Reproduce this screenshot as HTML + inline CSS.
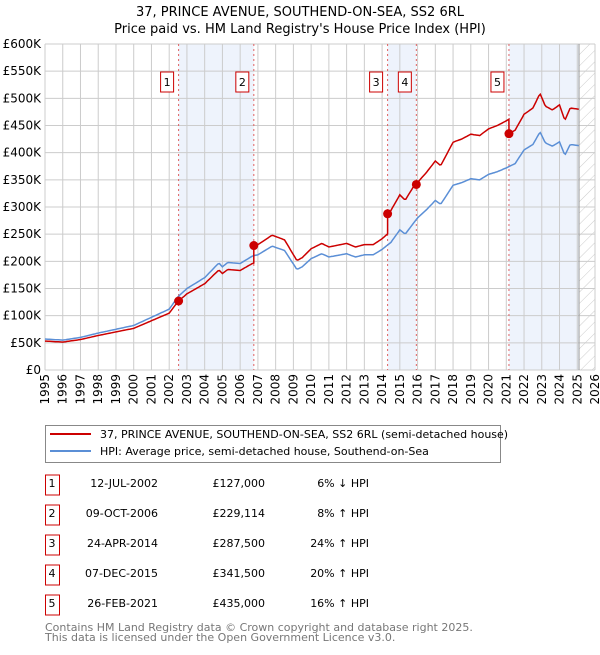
<!DOCTYPE html>
<html><head><meta charset="utf-8"><style>
body{margin:0;background:#fff;font-family:"Liberation Sans","DejaVu Sans",sans-serif;}
</style></head><body>
<svg width="600" height="650" xmlns="http://www.w3.org/2000/svg" font-family="DejaVu Sans, Liberation Sans, sans-serif">
<text x="300" y="16" text-anchor="middle" font-size="13">37, PRINCE AVENUE, SOUTHEND-ON-SEA, SS2 6RL</text>
<text x="300" y="33" text-anchor="middle" font-size="13">Price paid vs. HM Land Registry's House Price Index (HPI)</text>
<defs><pattern id="hatch" width="8" height="8" patternUnits="userSpaceOnUse" patternTransform="rotate(45)"><line x1="0" y1="0" x2="0" y2="8" stroke="#ccc" stroke-width="1"/></pattern></defs>
<g id="plot"></g>
<g>
<rect x="45.5" y="425.5" width="455" height="37" fill="#fff" stroke="#888"/>
<line x1="50" y1="434" x2="91" y2="434" stroke="#cc0000" stroke-width="2"/>
<text x="100" y="438" font-size="11">37, PRINCE AVENUE, SOUTHEND-ON-SEA, SS2 6RL (semi-detached house)</text>
<line x1="50" y1="451" x2="91" y2="451" stroke="#5b8fd6" stroke-width="2"/>
<text x="100" y="455" font-size="11">HPI: Average price, semi-detached house, Southend-on-Sea</text>
</g>
<g id="table" font-size="11"></g>
<text x="45" y="631" font-size="11" fill="#777">Contains HM Land Registry data © Crown copyright and database right 2025.</text>
<text x="45" y="641" font-size="11" fill="#777">This data is licensed under the Open Government Licence v3.0.</text>
</svg>
<script>
const hpiYears=[1995,1995.5,1996,1997,1998,1999,2000,2001,2002,2002.5,2003,2004,2004.8,2005,2005.3,2006,2006.7,2007,2007.8,2008.5,2009.2,2009.5,2010,2010.6,2011,2012,2012.5,2013,2013.5,2014,2014.5,2015,2015.3,2016,2016.5,2017,2017.3,2018,2018.5,2019,2019.5,2020,2020.5,2021,2021.5,2022,2022.5,2022.9,2023.2,2023.6,2024,2024.3,2024.6,2025.1];
const hpiValues=[57,56,55,60,68,75,82,97,112,135,150,170,197,190,198,196,210,212,228,220,185,190,205,214,208,214,208,212,212,222,235,258,250,280,295,312,305,340,345,352,350,360,365,372,380,405,415,438,418,412,420,395,415,413];
const saleLabels=["1","2","3","4","5"];
const saleYears=[2002.53,2006.77,2014.31,2015.93,2021.15];
const saleDates=["12-JUL-2002","09-OCT-2006","24-APR-2014","07-DEC-2015","26-FEB-2021"];
const salePrices=[127000,229114,287500,341500,435000];
const saleDiffs=["6% \u2193 HPI","8% \u2191 HPI","24% \u2191 HPI","20% \u2191 HPI","16% \u2191 HPI"];
const yTicks=[0,50,100,150,200,250,300,350,400,450,500,550,600];
const xTicks=[1995,1996,1997,1998,1999,2000,2001,2002,2003,2004,2005,2006,2007,2008,2009,2010,2011,2012,2013,2014,2015,2016,2017,2018,2019,2020,2021,2022,2023,2024,2025,2026];
const X0=45,X1=595,Y0=370,Y1=44,xmin=1995,xmax=2026,ymax=600,dataEnd=2025.1;
const sx=v=>X0+(v-xmin)/(xmax-xmin)*(X1-X0);
const sy=v=>Y0-(v/ymax)*(Y0-Y1);
const NS="http://www.w3.org/2000/svg";
const plot=document.getElementById('plot');
function mk(tag,attrs,parent){const e=document.createElementNS(NS,tag);for(const k in attrs)e.setAttribute(k,attrs[k]);(parent||plot).appendChild(e);return e;}
function hpiAt(t){for(let i=1;i<hpiYears.length;i++){if(t<=hpiYears[i]){const a=hpiYears[i-1],b=hpiYears[i];return hpiValues[i-1]+(hpiValues[i]-hpiValues[i-1])*(t-a)/(b-a);}}return hpiValues[hpiValues.length-1];}
const shadePairs=[[0,1],[2,3],[4,null]];
shadePairs.forEach((p,i)=>{const a=sx(saleYears[p[0]]),b=p[1]===null?sx(dataEnd):sx(saleYears[p[1]]);
const r=mk('rect',{x:a,y:Y1,width:b-a,height:Y0-Y1,fill:'#eef3fc'});

});
const h=mk('rect',{x:sx(dataEnd),y:Y1,width:X1-sx(dataEnd),height:Y0-Y1,fill:'url(#hatch)'});


yTicks.forEach(v=>{const l=mk('line',{x1:X0,x2:X1,y1:sy(v),y2:sy(v),stroke:'#ccc'});


const t=mk('text',{x:X0-4,y:sy(v)+4,'text-anchor':'end','font-size':12});t.textContent=v===0?'£0':'£'+v+'K';

});
xTicks.forEach(v=>{const l=mk('line',{x1:sx(v),x2:sx(v),y1:Y1,y2:Y0,stroke:'#ccc'});


const t=mk('text',{x:0,y:0,'text-anchor':'end','font-size':12,transform:`translate(${sx(v)+4},374) rotate(-90)`});t.textContent=v;

});
mk('line',{x1:sx(dataEnd),x2:sx(dataEnd),y1:Y1,y2:Y0,stroke:'#999'});
saleYears.forEach((s,i)=>{const l=mk('line',{x1:sx(s),x2:sx(s),y1:Y1,y2:Y0,stroke:'#e06060','stroke-dasharray':'2,3'});


const r=mk('rect',{x:sx(s)-18,y:72,width:13,height:20,fill:'#fff',stroke:'#cc0000'});


const t=mk('text',{x:sx(s)-11.5,y:86,'text-anchor':'middle','font-size':11});t.textContent=saleLabels[i];

});
const ts=[];for(let t=1995;t<=dataEnd+1e-9;t+=1/12)ts.push(t);
let d='';ts.forEach((t,i)=>{d+=(i?'L':'M')+sx(t).toFixed(1)+','+sy(hpiAt(t)).toFixed(1);});
const hp=mk('path',{d:d,fill:'none',stroke:'#5b8fd6','stroke-width':1.5});


function ratioAt(t){let k=0;for(let i=0;i<saleYears.length;i++)if(t>=saleYears[i])k=i;return (salePrices[k]/1000)/hpiAt(saleYears[k]);}
let d2='';const pts=[];
ts.forEach(t=>pts.push(t));saleYears.forEach(s=>{pts.push(s-0.0001);pts.push(s);});pts.sort((a,b)=>a-b);
pts.forEach((t,i)=>{d2+=(i?'L':'M')+sx(t).toFixed(1)+','+sy(hpiAt(t)*ratioAt(t)).toFixed(1);});
const pp=mk('path',{d:d2,fill:'none',stroke:'#cc0000','stroke-width':1.5});


saleYears.forEach((s,i)=>{const c=mk('circle',{cx:sx(s),cy:sy(salePrices[i]/1000),r:4.5,fill:'#cc0000'});

});
const tb=document.getElementById('table');
saleLabels.forEach((l,i)=>{const y=485+i*30;
const r=mk('rect',{x:45.5,y:y-10,width:14,height:20,fill:'#fff',stroke:'#cc0000'},tb);


const cells=[[52,l,'middle'],[158,saleDates[i],'end'],[265,'£'+salePrices[i].toLocaleString('en-GB'),'end'],[369,saleDiffs[i],'end']];
cells.forEach(c=>{const t=mk('text',{x:c[0],y:y+2,'text-anchor':c[2]},tb);t.textContent=c[1];

});});
</script>
</body></html>
